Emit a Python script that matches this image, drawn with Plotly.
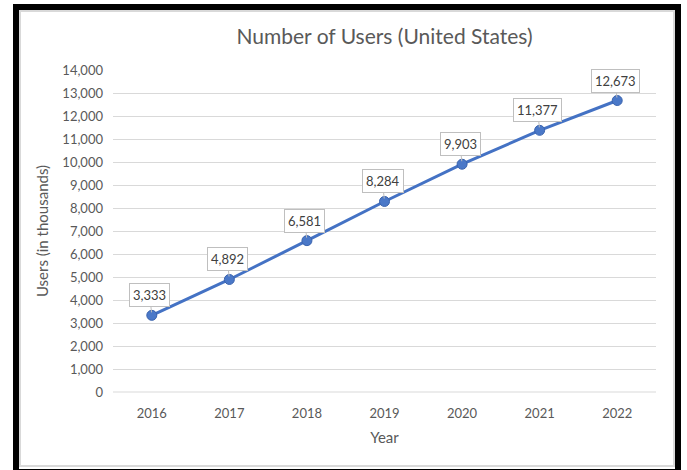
import plotly.graph_objects as go

years = ["2016", "2017", "2018", "2019", "2020", "2021", "2022"]
users = [3333, 4892, 6581, 8284, 9903, 11377, 12673]
y_ticks = list(range(0, 14001, 1000))

W, H = 687, 470
ML, MR, MT, MB = 113, 31, 70, 78
PW, PH = W - ML - MR, H - MT - MB

def px(x):
    return (x - ML) / PW

def py(y):
    return (H - MB - y) / PH

font = "Lato"
grey = "#595959"

fig = go.Figure()
fig.add_trace(go.Scatter(
    x=list(range(len(years))), y=users, mode="lines+markers",
    line=dict(color="#4472C4", width=3),
    marker=dict(size=10, color="#4a78c8", line=dict(color="#3a63ad", width=1)),
    hoverinfo="skip", showlegend=False,
))

for i, v in enumerate(users):
    fig.add_annotation(
        x=i, y=v, text=f"{v:,}", showarrow=True, arrowhead=0,
        arrowcolor="#bfbfbf", arrowwidth=1, ax=-2, ay=-20, standoff=3,
        bgcolor="white", bordercolor="#bfbfbf", borderwidth=1, borderpad=3,
        font=dict(family=font, size=13, color="#404040"),
    )

fig.update_layout(
    width=W, height=H,
    margin=dict(l=ML, r=MR, t=MT, b=MB),
    paper_bgcolor="white", plot_bgcolor="white",
    title=dict(text="Number of Users (United States)", x=0.5, xref="paper",
               xanchor="center", y=1 - 37 / H, yanchor="middle",
               font=dict(family=font, size=21, color=grey)),
    xaxis=dict(
        tickmode="array", tickvals=list(range(len(years))), ticktext=years,
        range=[-0.5, len(years) - 0.5], showgrid=False, zeroline=False,
        showline=False, ticks="", ticklabelstandoff=12,
        tickfont=dict(family=font, size=13, color=grey),
        title=dict(text="Year", font=dict(family=font, size=15, color=grey), standoff=12),
    ),
    yaxis=dict(
        range=[0, 14000], tickmode="array", tickvals=y_ticks,
        ticktext=[f"{t:,}" for t in y_ticks],
        showgrid=True, gridcolor="#d9d9d9", gridwidth=1, zeroline=False,
        showline=False, ticks="", ticklabelstandoff=9,
        tickfont=dict(family=font, size=13, color=grey),
        title=dict(text="Users (in thousands)", font=dict(family=font, size=15, color=grey), standoff=10),
    ),
    shapes=[
        dict(type="line", xref="paper", yref="paper", x0=0, x1=1, y0=0, y1=0,
             line=dict(color="#d9d9d9", width=1), layer="below"),
        dict(type="rect", xref="paper", yref="paper",
             x0=px(20), x1=px(674), y0=py(11), y1=py(466),
             line=dict(color="#d9d9d9", width=2), layer="below"),
        dict(type="rect", xref="paper", yref="paper",
             x0=px(16), x1=px(678), y0=py(7), y1=py(472),
             line=dict(color="black", width=6), layer="above"),
    ],
)

fig.write_html("out.html", config={"displayModeBar": False},
               post_script="document.body.style.margin='0';document.body.style.overflow='hidden';")
